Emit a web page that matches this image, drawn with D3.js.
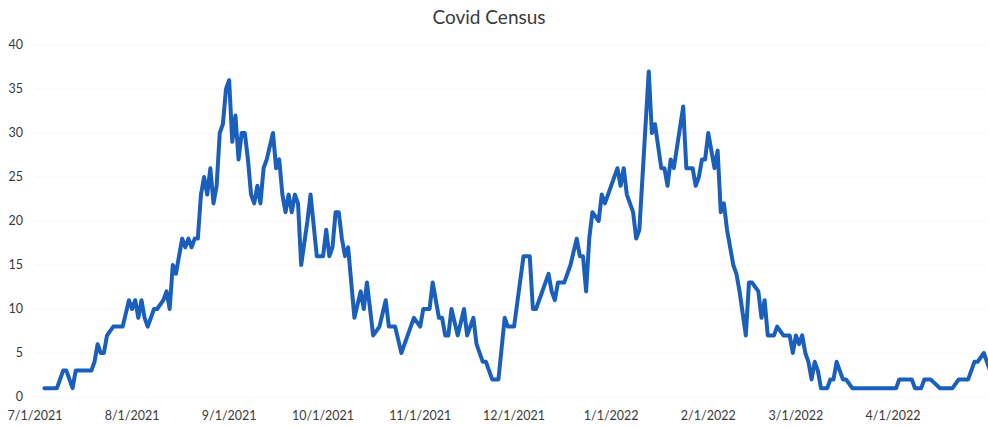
<!DOCTYPE html>
<html>
<head>
    <meta charset="utf-8">
    <title>Covid Census</title>
    <script src="https://d3js.org/d3.v7.min.js"></script>
    <style>
        body { margin: 0; background: #fff; }
        svg { display: block; font-family: "Lato", "Liberation Sans", sans-serif; }
        .tick-label { fill: #3a3a3a; font-size: 12.5px; }
        .title { fill: #3a3a3a; font-size: 19px; }
    </style>
</head>
<body>
<div id="chart"></div>

<script type="text/javascript">
    // days counted from 7/1/2021, census
    let dayOffsets = [
        3, 7, 9, 10, 12, 13, 18, 19, 20, 21,
        22, 23, 25, 26, 28, 30, 31, 32, 33, 34,
        35, 36, 38, 39, 41, 42, 43, 44, 45, 46,
        47, 48, 49, 50, 51, 52, 53, 54, 55, 56,
        57, 58, 59, 60, 61, 62, 63, 64, 65, 66,
        67, 68, 69, 70, 71, 72, 73, 74, 76, 77,
        78, 79, 80, 81, 82, 83, 84, 85, 87, 88,
        90, 92, 93, 94, 95, 96, 97, 98, 99, 100,
        102, 104, 105, 106, 108, 110, 112, 113, 115, 117,
        119, 121, 123, 124, 126, 127, 129, 130, 131, 132,
        133, 135, 137, 138, 140, 141, 143, 144, 146, 148,
        150, 151, 153, 156, 158, 159, 160, 164, 165, 166,
        167, 169, 170, 171, 173, 174, 175, 176, 177, 178,
        180, 181, 182, 186, 187, 188, 189, 191, 192, 193,
        196, 197, 198, 200, 201, 202, 203, 204, 207, 208,
        210, 211, 212, 213, 214, 215, 216, 217, 218, 219,
        220, 221, 223, 224, 225, 227, 228, 229, 231, 232,
        233, 234, 236, 237, 239, 241, 242, 243, 244, 245,
        246, 247, 248, 249, 250, 251, 253, 254, 255, 256,
        258, 259, 261, 275, 276, 280, 281, 283, 284, 286,
        289, 293, 295, 298, 300, 301, 303, 304, 305
    ];
    let census = [
        1, 1, 3, 3, 1, 3, 3, 4, 6, 5,
        5, 7, 8, 8, 8, 11, 10, 11, 9, 11,
        9, 8, 10, 10, 11, 12, 10, 15, 14, 16,
        18, 17, 18, 17, 18, 18, 23, 25, 23, 26,
        22, 24, 30, 31, 35, 36, 29, 32, 27, 30,
        30, 27, 23, 22, 24, 22, 26, 27, 30, 26,
        27, 23, 21, 23, 21, 23, 22, 15, 20, 23,
        16, 16, 19, 16, 17, 21, 21, 18, 16, 17,
        9, 12, 10, 13, 7, 8, 11, 8, 8, 5,
        7, 9, 8, 10, 10, 13, 9, 9, 7, 7,
        10, 7, 10, 7, 9, 6, 4, 4, 2, 2,
        9, 8, 8, 16, 16, 10, 10, 14, 12, 11,
        13, 13, 14, 15, 18, 16, 16, 12, 18, 21,
        20, 23, 22, 26, 24, 26, 23, 21, 18, 19,
        37, 30, 31, 26, 26, 24, 27, 26, 33, 26,
        26, 24, 25, 27, 27, 30, 28, 26, 28, 21,
        22, 19, 15, 14, 12, 7, 13, 13, 12, 9,
        11, 7, 7, 8, 7, 7, 5, 7, 6, 7,
        5, 4, 2, 4, 3, 1, 1, 2, 2, 4,
        2, 2, 1, 1, 2, 2, 1, 1, 2, 2,
        1, 1, 2, 2, 4, 4, 5, 4, 3
    ];
    let xTickLabels = ["7/1/2021", "8/1/2021", "9/1/2021", "10/1/2021", "11/1/2021",
                       "12/1/2021", "1/1/2022", "2/1/2022", "3/1/2022", "4/1/2022"];
    let yTicks = [0, 5, 10, 15, 20, 25, 30, 35, 40];

    let width = 988, height = 427;
    let parseDate = d3.timeParse("%-m/%-d/%Y");
    let startDate = parseDate("7/1/2021");

    let data = dayOffsets.map(function(d, i) {
        return { date: d3.timeDay.offset(startDate, d), value: census[i] };
    });

    let svg = d3.select("#chart")
        .append("svg")
        .attr("width", width)
        .attr("height", height);

    // the picture is cut on the right, so the scale runs past the edge
    let xScale = d3.scaleTime()
        .domain([startDate, parseDate("4/1/2022")])
        .range([35, 893]);
    let yScale = d3.scaleLinear()
        .domain([0, 40])
        .range([397, 45]);

    // gridlines, barely visible in the scan
    svg.append("g")
        .selectAll("line")
        .data(yTicks)
        .enter()
        .append("line")
        .attr("x1", 35)
        .attr("x2", width)
        .attr("y1", d => yScale(d))
        .attr("y2", d => yScale(d))
        .attr("stroke", "#f6f6f6")
        .attr("stroke-width", 1);

    svg.append("g")
        .selectAll("text")
        .data(yTicks)
        .enter()
        .append("text")
        .attr("class", "tick-label")
        .attr("x", 23)
        .attr("y", d => yScale(d))
        .attr("dy", "0.35em")
        .attr("text-anchor", "end")
        .text(d => d);

    svg.append("g")
        .selectAll("text")
        .data(xTickLabels)
        .enter()
        .append("text")
        .attr("class", "tick-label")
        .attr("x", d => xScale(parseDate(d)))
        .attr("y", 416)
        .attr("dy", "0.35em")
        .attr("text-anchor", "middle")
        .text(d => d);

    let line = d3.line()
        .x(d => xScale(d.date))
        .y(d => yScale(d.value));

    svg.append("path")
        .datum(data)
        .attr("d", line)
        .attr("fill", "none")
        .attr("stroke", "#1a5fbc")
        .attr("stroke-width", 4)
        .attr("stroke-linejoin", "round")
        .attr("stroke-linecap", "round");

    svg.append("text")
        .attr("class", "title")
        .attr("x", 489)
        .attr("y", 17)
        .attr("dy", "0.35em")
        .attr("text-anchor", "middle")
        .text("Covid Census");
</script>
</body>
</html>
